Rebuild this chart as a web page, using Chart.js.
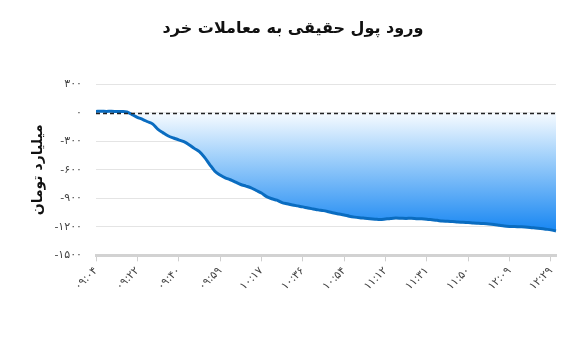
<!DOCTYPE html>
<html>
<head>
<meta charset="utf-8">
<script src="https://cdn.jsdelivr.net/npm/chart.js@4.4.1/dist/chart.umd.min.js"></script>
<style>
  html, body { margin: 0; padding: 0; background: #fff; }
  #wrap { width: 582px; height: 364px; position: relative; }
</style>
</head>
<body>
<div id="wrap"><canvas id="chart"></canvas></div>
<script>
const title = "ورود پول حقیقی به معاملات خرد";
const yTitle = "میلیارد تومان";

// visible time labels on the x axis (one every 8 points)
const timeLabels = ["09:04", "09:22", "09:40", "09:59", "10:17", "10:36",
  "10:54", "11:12", "11:31", "11:50", "12:09", "12:29"];
const pointsPerLabel = 8;

const yMin = -1500;
const yMax = 300;
const yStep = 300;

// cumulative net inflow, billion toman
const inflow = [
  14, 15, 14, 15, 13, 12, 8, -20, -48, -70,
  -95, -120, -175, -212, -245, -266, -285, -305, -336, -375,
  -410, -470, -545, -615, -655, -685, -705, -730, -755, -772,
  -790, -818, -845, -882, -905, -920, -945, -958, -970, -980,
  -990, -1002, -1012, -1022, -1030, -1042, -1055, -1065, -1075, -1088,
  -1098, -1105, -1110, -1115, -1120, -1124, -1118, -1112, -1108, -1110,
  -1112, -1110, -1114, -1116, -1120, -1126, -1132, -1140, -1142, -1145,
  -1150, -1152, -1155, -1160, -1163, -1166, -1170, -1176, -1184, -1192,
  -1196, -1198, -1200, -1202, -1206, -1212, -1218, -1225, -1232, -1244
];

const faDigits = "۰۱۲۳۴۵۶۷۸۹";
const toFa = (s) => String(s).replace(/\d/g, (d) => faDigits[d]);

const labels = inflow.map((_, i) =>
  i % pointsPerLabel === 0 && timeLabels[i / pointsPerLabel] ? timeLabels[i / pointsPerLabel] : "");

const FONT = "'DejaVu Sans', 'Noto Sans', sans-serif";

const zeroLine = {
  id: "zeroLine",
  afterDatasetsDraw(chart) {
    const { ctx, chartArea } = chart;
    const y = Math.round(chart.scales.y.getPixelForValue(0)) + 0.5;
    ctx.save();
    ctx.strokeStyle = "#222";
    ctx.lineWidth = 1.5;
    ctx.setLineDash([4, 3]);
    ctx.beginPath();
    ctx.moveTo(chartArea.left, y);
    ctx.lineTo(chartArea.right, y);
    ctx.stroke();
    ctx.restore();
  },
};

const ctx = document.getElementById("chart").getContext("2d");
new Chart(ctx, {
  type: "line",
  data: {
    labels: labels,
    datasets: [{
      data: inflow,
      borderColor: "#0a6cc0",
      borderWidth: 3,
      pointRadius: 0,
      tension: 0.3,
      fill: "origin",
      backgroundColor: (context) => {
        const chart = context.chart;
        const area = chart.chartArea;
        if (!area) return "rgba(30,140,240,0.5)";
        const y0 = chart.scales.y.getPixelForValue(0);
        const g = chart.ctx.createLinearGradient(0, y0, 0, chart.scales.y.getPixelForValue(-1250));
        g.addColorStop(0, "#f7fbff");
        g.addColorStop(0.35, "#a6d3fb");
        g.addColorStop(1, "#1786f2");
        return g;
      },
    }],
  },
  options: {
    responsive: true,
    maintainAspectRatio: false,
    animation: false,
    layout: { padding: { left: 30, right: 26, top: 8, bottom: 68 } },
    plugins: {
      legend: { display: false },
      tooltip: { enabled: false },
      title: {
        display: true,
        text: title,
        color: "#111",
        font: { family: FONT, size: 16, weight: "bold" },
        padding: { top: 11, bottom: 46 },
      },
    },
    scales: {
      x: {
        offset: false,
        grid: { drawOnChartArea: false, drawTicks: true, tickLength: 6, color: "#cfcfcf" },
        border: { color: "#d2d2d2", width: 3 },
        ticks: {
          autoSkip: false,
          maxRotation: 45,
          minRotation: 45,
          color: "#444",
          font: { family: FONT, size: 11 },
          callback: function (value) {
            const l = this.getLabelForValue(value);
            return l ? toFa(l) : null;
          },
        },
      },
      y: {
        min: yMin,
        max: yMax,
        afterFit: (scale) => { scale.width = 66; },
        grid: { color: "#e4e4e4", drawTicks: false },
        border: { display: false },
        ticks: {
          stepSize: yStep,
          padding: 14,
          color: "#444",
          font: { family: FONT, size: 11 },
          callback: (v) => toFa(v),
        },
        title: {
          display: true,
          text: yTitle,
          color: "#111",
          font: { family: FONT, size: 14, weight: "bold" },
          padding: 0,
        },
      },
    },
  },
  plugins: [zeroLine],
});
</script>
</body>
</html>
